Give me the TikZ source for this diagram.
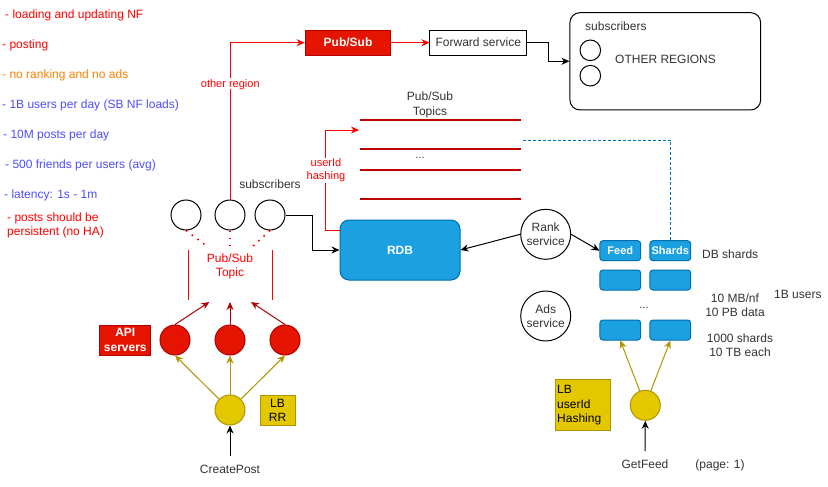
\documentclass[tikz,border=0pt]{standalone}
\usepackage{fontspec}
\setmainfont{Liberation Sans}
\usetikzlibrary{arrows.meta}
\definecolor{dred}{HTML}{E51400}
\definecolor{dredb}{HTML}{B20000}
\definecolor{ylw}{HTML}{E3C800}
\definecolor{ylwb}{HTML}{B09500}
\definecolor{bluef}{HTML}{1BA1E2}
\definecolor{blueb}{HTML}{006EAF}
\definecolor{txtblue}{HTML}{4D4DFF}
\definecolor{txtorange}{HTML}{FF8000}
\definecolor{txtred}{HTML}{FF0000}
\definecolor{txtgray}{HTML}{333333}
\begin{document}
\begin{tikzpicture}[x=1pt,y=-1pt,
  font=\fontsize{12}{14.4}\selectfont,
  every node/.style={inner sep=0pt, text=txtgray},
  lbl/.style={text height=8.6pt, text depth=2.4pt},
  small/.style={font=\fontsize{11}{13.2}\selectfont},
  note/.style={lbl, anchor=west},
  subc/.style={circle, draw=black, line width=1pt, minimum size=30pt},
  apic/.style={circle, draw=dredb, fill=dred, line width=1pt, minimum size=30pt},
  lbc/.style={circle, draw=ylwb, fill=ylw, line width=1pt, minimum size=30pt},
  redbox/.style={draw=dredb, fill=dred, line width=1pt, text=white, font=\fontsize{12}{14.4}\selectfont\bfseries},
  ylwbox/.style={draw=ylwb, fill=ylw, line width=1pt, text=black},
  bluebox/.style={draw=blueb, fill=bluef, line width=1pt, rounded corners=3pt, minimum width=40.7pt, minimum height=20pt, text=white, font=\fontsize{11}{13.2}\selectfont\bfseries},
  svc/.style={circle, draw=black, line width=1pt, minimum size=50pt, align=center},
  arr/.style={-{Stealth[length=8pt,width=7pt]}, line width=1pt},
  blackarr/.style={arr, draw=black},
  redarr/.style={arr, draw=txtred},
  dredarr/.style={arr, draw=dredb},
  ylwarr/.style={arr, draw=ylwb},
  topicline/.style={draw=dredb!85!red, line width=2.2pt},
  reddot/.style={draw=txtred, line width=1.6pt, dash pattern=on 1.6pt off 5.5pt},
  dashblue/.style={draw=blueb, line width=1pt, dash pattern=on 3pt off 2pt}
]
\useasboundingbox[fill=white] (0,0) rectangle (828,487);

% left notes
\node[note, text=txtred] (n1) at (5,15) {- loading and updating NF};
\node[note, text=txtred] (n2) at (2,45) {- posting};
\node[note, text=txtorange] (n3) at (2,75) {- no ranking and no ads};
\node[note, text=txtblue] (n4) at (2,105) {- 1B users per day (SB NF loads)};
\node[note, text=txtblue] (n5) at (3,135) {- 10M posts per day};
\node[note, text=txtblue] (n6) at (5,165) {- 500 friends per users (avg)};
\node[note, text=txtblue] (n7) at (4,195) {- latency: 1s - 1m};
\node[anchor=west, align=left, text=txtred] (n8) at (7,225.5) { - posts should be\\persistent (no HA)};

% subscribers (write side)
\node[subc] (s1) at (186,215) {};
\node[subc] (s2) at (230,215) {};
\node[subc] (s3) at (270,215) {};
\node[lbl] (sublbl) at (270,185) {subscribers};

\coordinate (d1) at (208,247);
\coordinate (d2) at (230,251);
\coordinate (d3) at (252,247);
\draw[reddot] (s1.south) -- (d1);
\draw[reddot] (s2.south) -- (d2);
\draw[reddot] (s3.south) -- (d3);

\draw[txtred, line width=1pt] (188.3,250) -- (188.3,300);
\draw[txtred, line width=1pt] (272.7,250) -- (272.7,300);
\node[align=center, text=txtred] (pst) at (230,266.5) {Pub/Sub\\Topic};

% API servers
\node[apic] (a1) at (175,340) {};
\node[apic] (a2) at (230,340) {};
\node[apic] (a3) at (285,340) {};
\node[redbox, minimum width=50.7pt, minimum height=30pt, align=center] (api) at (125.3,340) {API\\servers};
\coordinate (t1) at (209.3,302);
\coordinate (t2) at (230,302);
\coordinate (t3) at (251,302);
\draw[dredarr] (a1.north) -- (t1);
\draw[dredarr] (a2.north) -- (t2);
\draw[dredarr] (a3.north) -- (t3);

% load balancer (write)
\node[lbc] (lb1) at (230,410) {};
\node[ylwbox, minimum width=35pt, minimum height=30.7pt, align=center] (lbrr) at (277.5,410.5) {LB\\RR};
\draw[ylwarr] (lb1) -- (a1.south);
\draw[ylwarr] (lb1) -- (a2.south);
\draw[ylwarr] (lb1) -- (a3.south);
\node[lbl] (cp) at (230,470) {CreatePost};
\coordinate (cpt) at (230,456);
\draw[blackarr] (cpt) -- (lb1.south);

% other region path
\node[redbox, minimum width=85.7pt, minimum height=25.3pt] (ps) at (348,42.7) {Pub/Sub};
\node[draw=black, line width=1pt, fill=white, minimum width=96.7pt, minimum height=25.3pt] (fs) at (478.3,42.7) {Forward service};
\draw[redarr] (s2.north) |- (ps.west);
\node[small, lbl, fill=white, text=txtred, inner xsep=1pt] (orl) at (230.3,84) {other region};
\draw[redarr] (ps.east) -- (fs.west);

\node[draw=black, line width=1pt, rounded corners=10pt, minimum width=190.7pt, minimum height=97.3pt] (big) at (665.3,61.3) {};
\draw[blackarr] (fs.east) -- ++(21.3,0) |- (big.west);
\node[note] (bsub) at (585,27) {subscribers};
\node[circle, draw=black, line width=1pt, minimum size=20.6pt] (c1) at (590.3,50.3) {};
\node[circle, draw=black, line width=1pt, minimum size=20.6pt] (c2) at (590.3,75.7) {};
\node[note] (oreg) at (615,60.7) {OTHER REGIONS};

% Pub/Sub Topics
\node[align=center] (pstl) at (430,105) {Pub/Sub\\Topics};
\draw[topicline] (360,120) -- (520.7,120);
\draw[topicline] (360,149.3) -- (520.7,149.3);
\draw[topicline] (360,170) -- (520.7,170);
\draw[topicline] (360,199) -- (520.7,199);
\node[lbl, small] (tdots) at (420,155) {...};

% RDB
\node[draw=blueb, fill=bluef, line width=1pt, rounded corners=9pt, minimum width=120pt, minimum height=60pt, text=white, font=\fontsize{12}{14.4}\selectfont\bfseries] (rdb) at (400,250) {RDB};
\coordinate (ht) at (359,130);
\draw[redarr] ([yshift=20pt]rdb.west) -- ++(-14.3,0) |- (ht);
\node[small, fill=white, text=txtred, align=center, inner xsep=1pt, inner ysep=1pt] (uh) at (326,170.3) {userId\\hashing};
\draw[blackarr] (s3.east) -- ++(27.3,0) |- (rdb.west);

% Rank / Ads
\node[svc] (rank) at (545.7,234.3) {Rank\\service};
\node[svc] (ads) at (545.7,316) {Ads\\service};
\draw[blackarr] (rank.west) -- (rdb.east);

% DB shards
\node[bluebox] (f1) at (620.3,250.7) {Feed};
\node[bluebox] (h1) at (670.3,250.7) {Shards};
\node[bluebox] (f2) at (620.3,280) {};
\node[bluebox] (h2) at (670.3,280) {};
\node[bluebox] (f3) at (620.3,330) {};
\node[bluebox] (h3) at (670.3,330) {};
\node[lbl, small] (sdots) at (644,305) {...};
\draw[blackarr] (rank.east) -- (f1.west);
\coordinate (dend) at (520.7,140);
\draw[dashblue] (h1.north) |- (dend);

\node[note] (dbs) at (702,255) {DB shards};
\node[align=center] (mb) at (735,305) {10 MB/nf\\10 PB data};
\node[note] (bu) at (774,295) {1B users};
\node[align=center] (ts) at (740,345) {1000 shards\\10 TB each};

% load balancer (read)
\node[lbc] (lb2) at (645.3,405.3) {};
\draw[ylwarr] (lb2) -- (f3.south);
\draw[ylwarr] (lb2) -- (h3.south);
\node[ylwbox, minimum width=55pt, minimum height=50.7pt, text width=52pt, align=left, inner xsep=1.5pt] (lbh) at (583.2,405.3) {LB\\userId\\Hashing};
\node[lbl] (gf) at (645,465) {GetFeed};
\coordinate (gft) at (645,451);
\draw[blackarr] (gft) -- (lb2.south);
\node[lbl] (pg) at (720,465) {(page: 1)};
\end{tikzpicture}
\end{document}
